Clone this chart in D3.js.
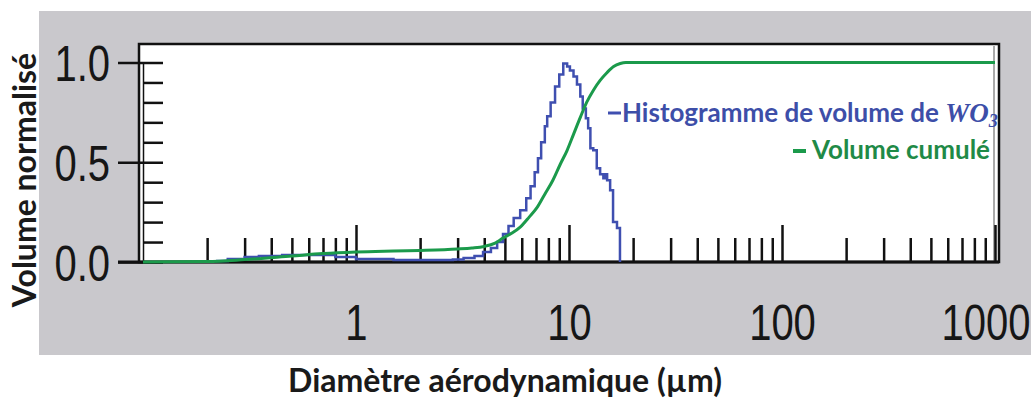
<!DOCTYPE html>
<html>
<head>
<meta charset="utf-8">
<script src="https://cdn.jsdelivr.net/npm/d3@7/dist/d3.min.js"></script>
<style>
  html, body { margin: 0; padding: 0; background: #ffffff; }
  svg { display: block; }
</style>
</head>
<body>
<svg id="chart" width="1031" height="400"></svg>
<script>
// ---- Data ----
const histDiameters = [0.22, 0.25, 0.3, 0.35, 0.45, 0.6, 0.8, 1.0, 1.5, 2.0, 2.85, 3.2, 3.6, 3.95, 4.3, 4.6, 4.9, 5.2, 5.5, 5.9, 6.3, 6.6, 6.9, 7.15, 7.4, 7.7, 7.9, 8.2, 8.6, 9.0, 9.4, 9.8, 10.1, 10.5, 10.9, 11.3, 11.6, 12.0, 12.3, 12.6, 13.0, 13.5, 14.0, 14.5, 14.8, 15.1, 15.6, 16.1, 16.8, 17.35];
const histValues    = [0.005, 0.015, 0.025, 0.03, 0.035, 0.035, 0.025, 0.015, 0.01, 0.01, 0.012, 0.02, 0.03, 0.05, 0.07, 0.1, 0.14, 0.18, 0.22, 0.26, 0.32, 0.38, 0.45, 0.52, 0.6, 0.68, 0.73, 0.8, 0.88, 0.94, 0.995, 0.98, 0.96, 0.93, 0.89, 0.83, 0.77, 0.72, 0.67, 0.57, 0.56, 0.47, 0.44, 0.42, 0.44, 0.41, 0.36, 0.2, 0.17, 0];

const cumDiameters = [0.1, 0.2, 0.3, 0.5, 0.7, 1.0, 1.5, 2.0, 3.0, 3.5, 4.0, 4.5, 4.9, 5.4, 5.9, 6.5, 7.1, 7.7, 8.4, 9.1, 9.8, 10.5, 11.3, 12.1, 13.0, 14.0, 15.1, 16.2, 17.4, 18.5, 1000];
const cumValues    = [0, 0.002, 0.012, 0.03, 0.042, 0.05, 0.055, 0.058, 0.065, 0.07, 0.078, 0.095, 0.12, 0.145, 0.175, 0.225, 0.275, 0.34, 0.41, 0.49, 0.56, 0.64, 0.725, 0.8, 0.86, 0.91, 0.95, 0.98, 0.995, 1.0, 1.0];

const xMajorTicks = [1, 10, 100, 1000];
const xMajorLabels = ["1", "10", "100", "1000"];
const xMinorTicks = [0.2,0.3,0.4,0.5,0.6,0.7,0.8,0.9, 2,3,4,5,6,7,8,9, 20,30,40,50,60,70,80,90, 200,300,400,500,600,700,800,900];
const yMajorTicks = [0, 0.5, 1.0];
const yMajorLabels = ["0.0", "0.5", "1.0"];
const yMinorTicks = [0.1,0.2,0.3,0.4,0.6,0.7,0.8,0.9];

const legendLabels = ["Histogramme de volume de ", "Volume cumulé"];
const axisTitles = ["Diamètre aérodynamique (µm)", "Volume normalisé"];

// ---- Layout ----
const blue = "#3f4fb0";
const green = "#1b9a4b";
const svg = d3.select("#chart");

svg.append("rect").attr("x", 39).attr("y", 11).attr("width", 992).attr("height", 344).attr("fill", "#c9c8cc");

const x = d3.scaleLog().domain([0.1, 1000]).range([143, 995]);
const y = d3.scaleLinear().domain([0, 1]).range([262, 62.5]);

// plot frame
svg.append("rect").attr("x", 139).attr("y", 44).attr("width", 860).attr("height", 218)
  .attr("fill", "#ffffff").attr("stroke", "#111").attr("stroke-width", 2.5);

// thin line at 1000
svg.append("line").attr("x1", x(1000) - 1).attr("x2", x(1000) - 1).attr("y1", 46).attr("y2", 262)
  .attr("stroke", "#555").attr("stroke-width", 1);

// x axis ticks (inward)
const gxMinor = svg.append("g").attr("transform", "translate(0,262)")
  .call(d3.axisBottom(x).tickValues(xMinorTicks).tickSizeInner(-24).tickSizeOuter(0).tickFormat(""));
const gxMajor = svg.append("g").attr("transform", "translate(0,262)")
  .call(d3.axisBottom(x).tickValues(xMajorTicks).tickSizeInner(-37).tickSizeOuter(0)
    .tickFormat((d, i) => xMajorLabels[i]));
[gxMinor, gxMajor].forEach(g => {
  g.select(".domain").remove();
  g.selectAll(".tick line").attr("stroke", "#111").attr("stroke-width", 2.5);
});
gxMajor.selectAll(".tick text")
  .attr("y", 0).attr("dy", 0)
  .attr("transform", d => d === 1000 ? "translate(35,78) scale(0.8,1)" : "translate(0,78) scale(0.8,1)")
  .attr("text-anchor", d => d === 1000 ? "end" : "middle")
  .attr("font-family", "'Liberation Sans', Arial, sans-serif")
  .attr("font-size", 50).attr("fill", "#161616");

// y axis
const gyIn = svg.append("g").attr("transform", "translate(143,0)")
  .call(d3.axisRight(y).tickValues(yMinorTicks.concat(yMajorTicks)).tickSizeInner(20).tickSizeOuter(0).tickFormat(""));
gyIn.select(".domain").attr("stroke", "#111").attr("stroke-width", 1.5);
gyIn.selectAll(".tick line").attr("stroke", "#111").attr("stroke-width", 2.5);

const gyOut = svg.append("g").attr("transform", "translate(143,0)")
  .call(d3.axisLeft(y).tickValues(yMajorTicks).tickSizeInner(25).tickSizeOuter(0)
    .tickFormat((d, i) => yMajorLabels[i]));
gyOut.select(".domain").remove();
gyOut.selectAll(".tick line").attr("stroke", "#111").attr("stroke-width", 2.5);
gyOut.selectAll(".tick text")
  .attr("x", 0).attr("dy", 0).attr("y", 0)
  .attr("transform", "translate(-33,18) scale(0.8,1)")
  .attr("text-anchor", "end")
  .attr("font-family", "'Liberation Sans', Arial, sans-serif")
  .attr("font-size", 50).attr("fill", "#161616");

// baseline
svg.append("line").attr("x1", 118).attr("x2", 999).attr("y1", 262).attr("y2", 262)
  .attr("stroke", "#111").attr("stroke-width", 3);

// series
const histLine = d3.line().x((d, i) => x(histDiameters[i])).y(d => y(d)).curve(d3.curveStepAfter);
svg.append("path").datum(histValues).attr("d", histLine)
  .attr("fill", "none").attr("stroke", blue).attr("stroke-width", 2.5);

const cumLine = d3.line().x((d, i) => x(cumDiameters[i])).y(d => y(d)).curve(d3.curveMonotoneX);
svg.append("path").datum(cumValues).attr("d", cumLine)
  .attr("fill", "none").attr("stroke", green).attr("stroke-width", 3);

// legend
svg.append("line").attr("x1", 608).attr("x2", 621).attr("y1", 113).attr("y2", 113)
  .attr("stroke", blue).attr("stroke-width", 3);
const t1 = svg.append("text").attr("x", 622).attr("y", 122)
  .attr("font-family", "Lato, 'Open Sans', sans-serif").attr("font-weight", "bold")
  .attr("font-size", 26).attr("fill", "#3d4ea8");
t1.append("tspan").text(legendLabels[0]);
t1.append("tspan").attr("font-family", "'Liberation Serif', serif").attr("font-style", "italic")
  .attr("font-weight", "bold").attr("font-size", 27).text("WO");
t1.append("tspan").attr("font-family", "'Liberation Serif', serif").attr("font-style", "italic")
  .attr("font-weight", "bold").attr("font-size", 18).attr("dy", 5).text("3");

svg.append("line").attr("x1", 793).attr("x2", 806).attr("y1", 151).attr("y2", 151)
  .attr("stroke", green).attr("stroke-width", 4);
svg.append("text").attr("x", 990).attr("y", 159).attr("text-anchor", "end")
  .attr("font-family", "Lato, 'Open Sans', sans-serif").attr("font-weight", "bold")
  .attr("font-size", 26).attr("fill", "#1f8a47").text(legendLabels[1]);

// axis titles
svg.append("text").attr("x", 505).attr("y", 392).attr("text-anchor", "middle")
  .attr("font-family", "Lato, 'Open Sans', sans-serif").attr("font-weight", "bold")
  .attr("font-size", 32).attr("fill", "#1a1a1a").text(axisTitles[0]);

svg.append("text").attr("transform", "translate(36,180) rotate(-90)").attr("text-anchor", "middle")
  .attr("font-family", "Lato, 'Open Sans', sans-serif").attr("font-weight", "bold")
  .attr("font-size", 32).attr("fill", "#1a1a1a").text(axisTitles[1]);
</script>
</body>
</html>
